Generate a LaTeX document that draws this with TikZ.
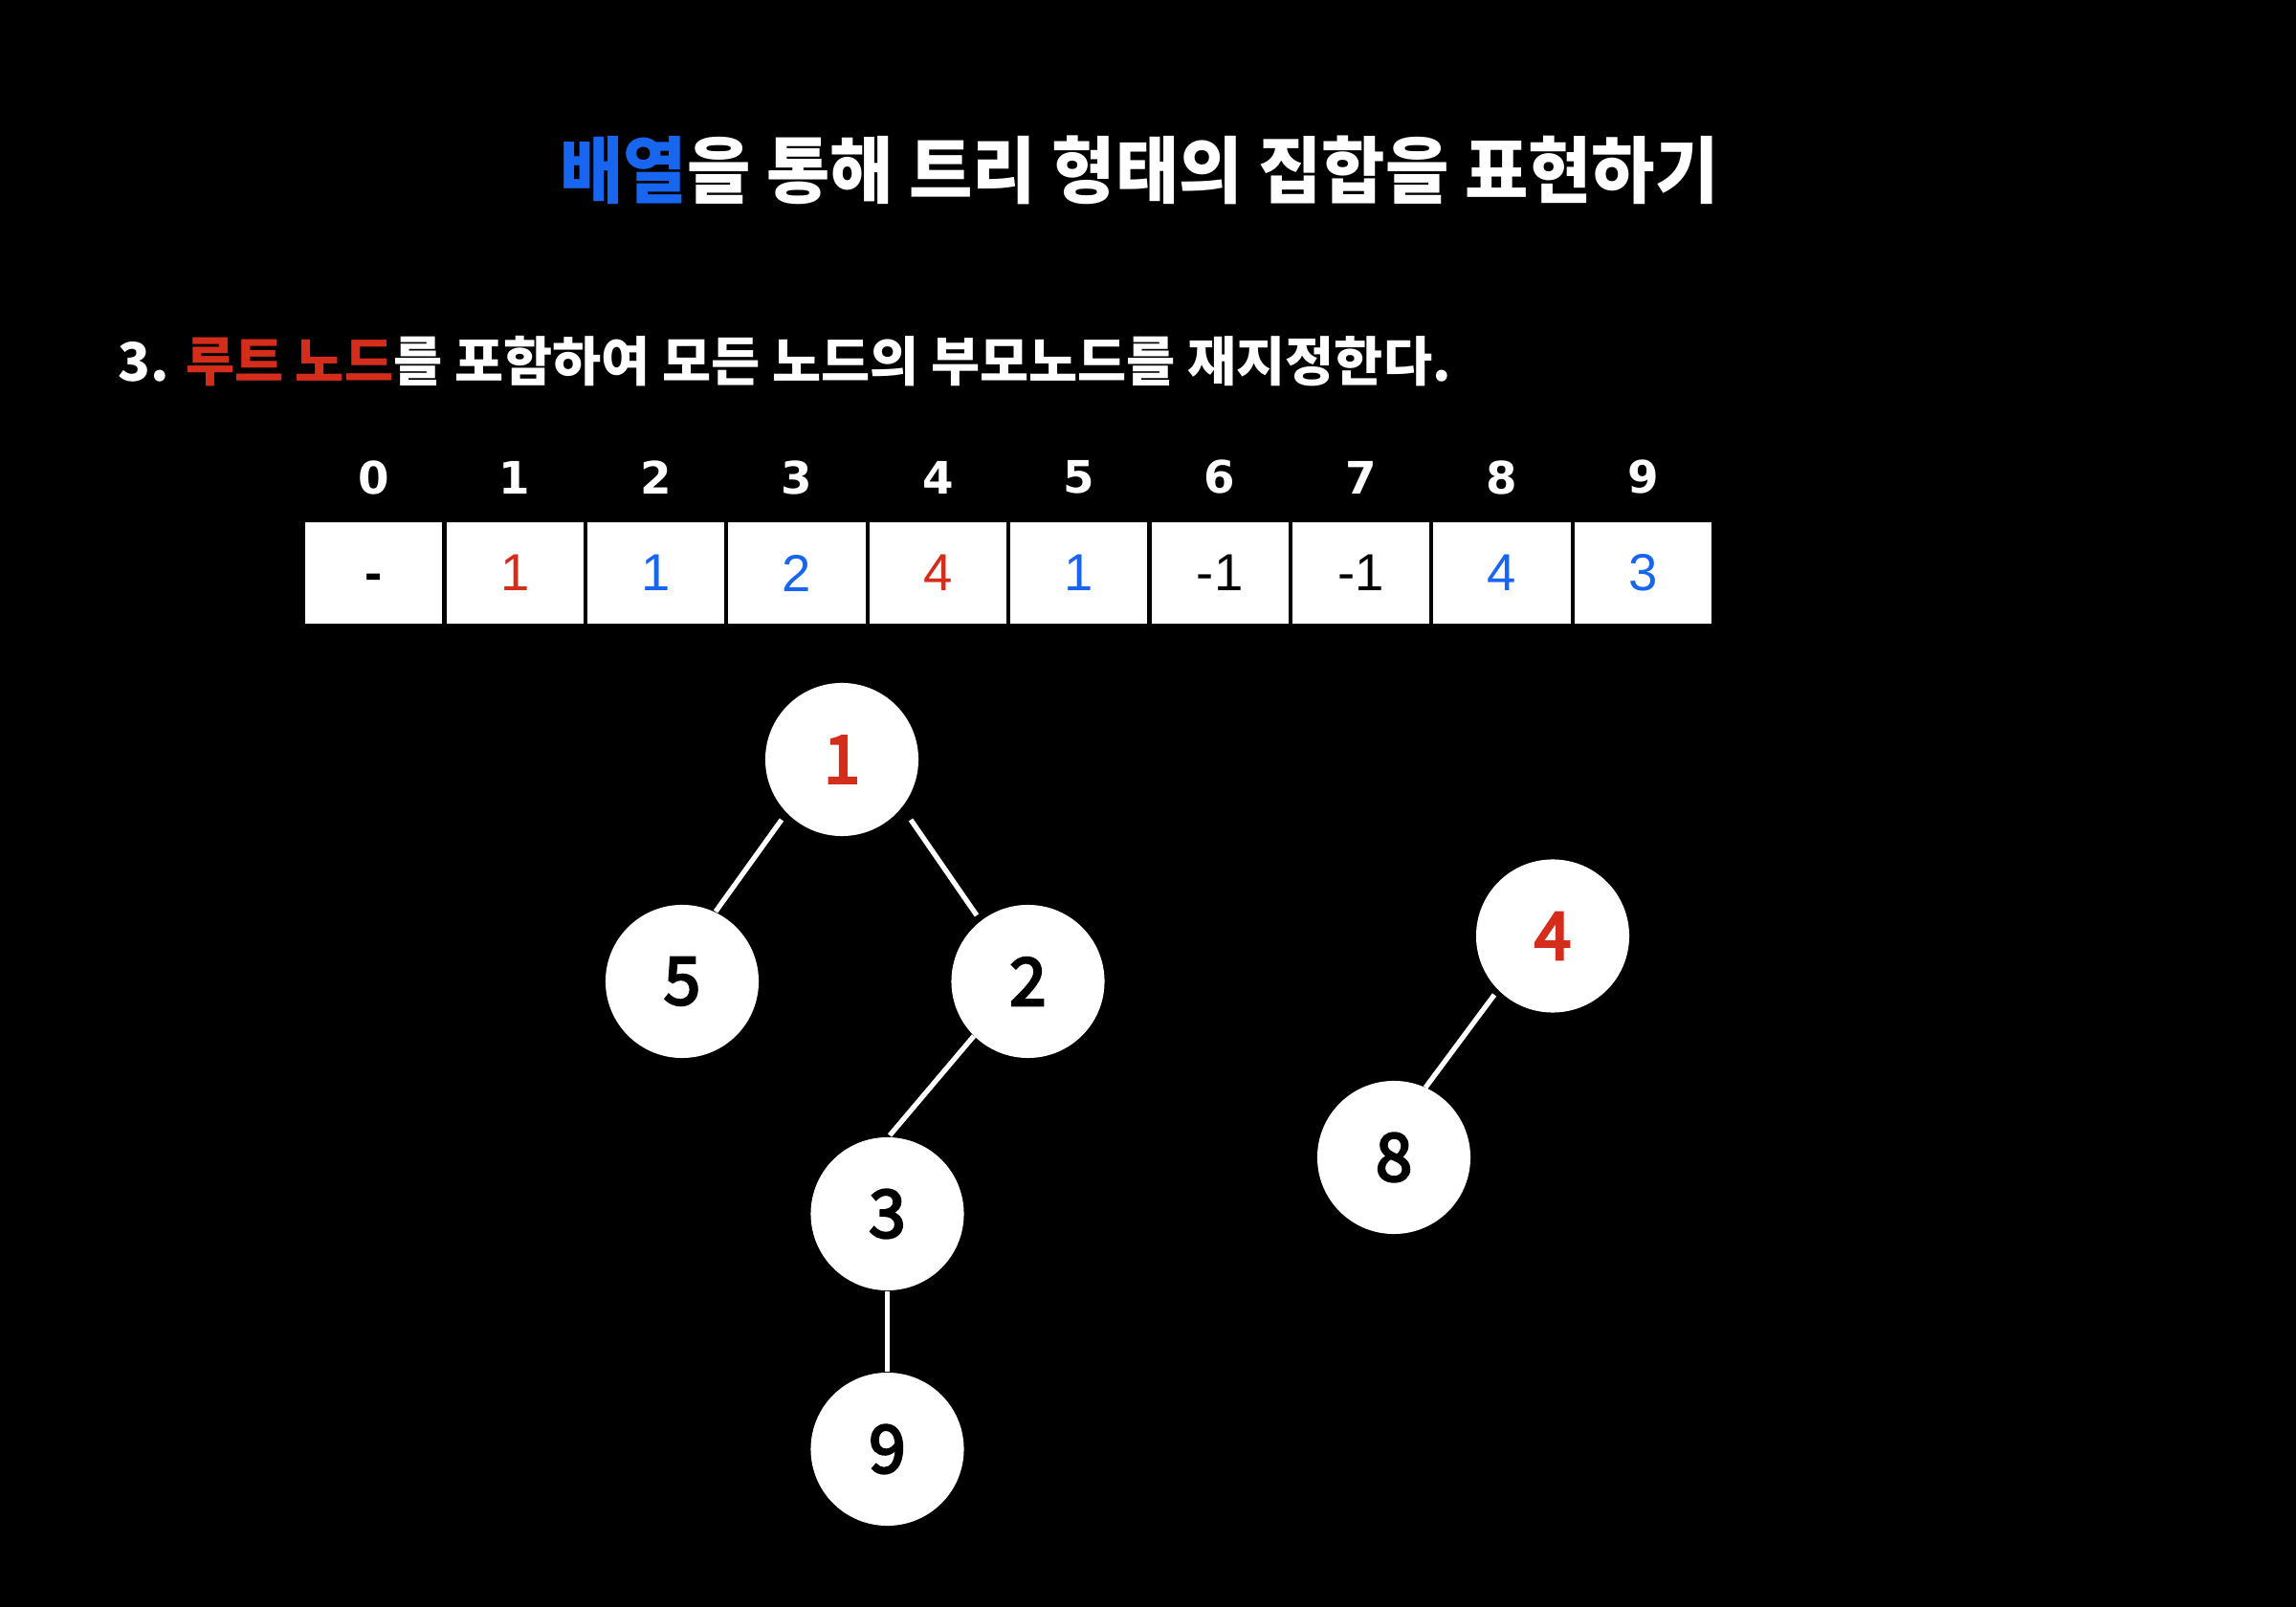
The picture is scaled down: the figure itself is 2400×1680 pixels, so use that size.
\documentclass[tikz,border=0pt]{standalone}
\usepackage{fontspec}
\setmainfont{Liberation Sans}
\newfontfamily\idxfont{DejaVu Sans}
\newfontfamily\krt{Noto Sans CJK KR}[FakeStretch=0.95]
\newfontfamily\krs{Noto Sans CJK KR}[FakeStretch=1.0]
\newfontfamily\krn{Noto Sans CJK KR}[FakeBold=4]
\usetikzlibrary{calc}
\definecolor{myred}{RGB}{213,45,28}
\definecolor{myblue}{RGB}{24,102,240}
\begin{document}
\begin{tikzpicture}[x=0.01cm,y=-0.01cm,
  cellbox/.style={fill=white, minimum width=1.43cm, minimum height=1.05cm, inner sep=0pt,
    font=\fontsize{15.5}{17}\selectfont},
  idx/.style={text=white, inner sep=0pt, font=\idxfont\fontsize{13.3}{15}\selectfont\bfseries},
  tnode/.style={circle, fill=white, minimum size=1.6cm, inner sep=0pt,
    font=\krn\fontsize{19.5}{21}\selectfont},
  tedge/.style={draw=white, line width=1.5pt}]
\fill[black] (0,0) rectangle (2400,1680);
\useasboundingbox (0,0) rectangle (2400,1680);
% title
\node[text=white, inner sep=0pt] (title) at (1191,178)
  {\krt\bfseries\fontsize{21.6}{24}\selectfont\textcolor{myblue}{배열}을 통해 트리 형태의 집합을 표현하기};
% subtitle
\node[text=white, anchor=west, inner sep=0pt] (sub) at (123,378)
  {\krs\bfseries\fontsize{15.8}{18}\selectfont 3. \textcolor{myred}{루트 노드}를 포함하여 모든 노드의 부모노드를 재지정한다.};
% array
\foreach \i/\v/\c in {0/{\bfseries -}/black,1/1/myred,2/1/myblue,3/2/myblue,4/4/myred,5/1/myblue,6/-1/black,7/-1/black,8/4/myblue,9/3/myblue}{
  \node[cellbox, text=\c] (c\i) at ({390.8+147.4*\i},599) {\vphantom{1}\v};
  \node[idx] (i\i) at ({390.8+147.4*\i},499) {\i};
}
% tree nodes
\node[tnode, text=myred] (n1) at (880,794) {1};
\node[tnode] (n5) at (713,1026) {5};
\node[tnode] (n2) at (1074.5,1026) {2};
\node[tnode] (n3) at (927.5,1269) {3};
\node[tnode] (n9) at (927.5,1515) {9};
\node[tnode, text=myred] (n4) at (1623,978.5) {4};
\node[tnode] (n8) at (1457,1210) {8};
% edges
\draw[tedge] ($(n1)+(-63,63)$) -- ($(n5)+(35,-73)$);
\draw[tedge] ($(n1)+(72,63)$) -- ($(n2)+(-53.5,-69)$);
\draw[tedge] ($(n2)+(-56.5,57)$) -- ($(n3)+(2.5,-82)$);
\draw[tedge] (n3) -- (n9);
\draw[tedge] ($(n4)+(-61,61.5)$) -- ($(n8)+(33,-73)$);
\end{tikzpicture}
\end{document}
